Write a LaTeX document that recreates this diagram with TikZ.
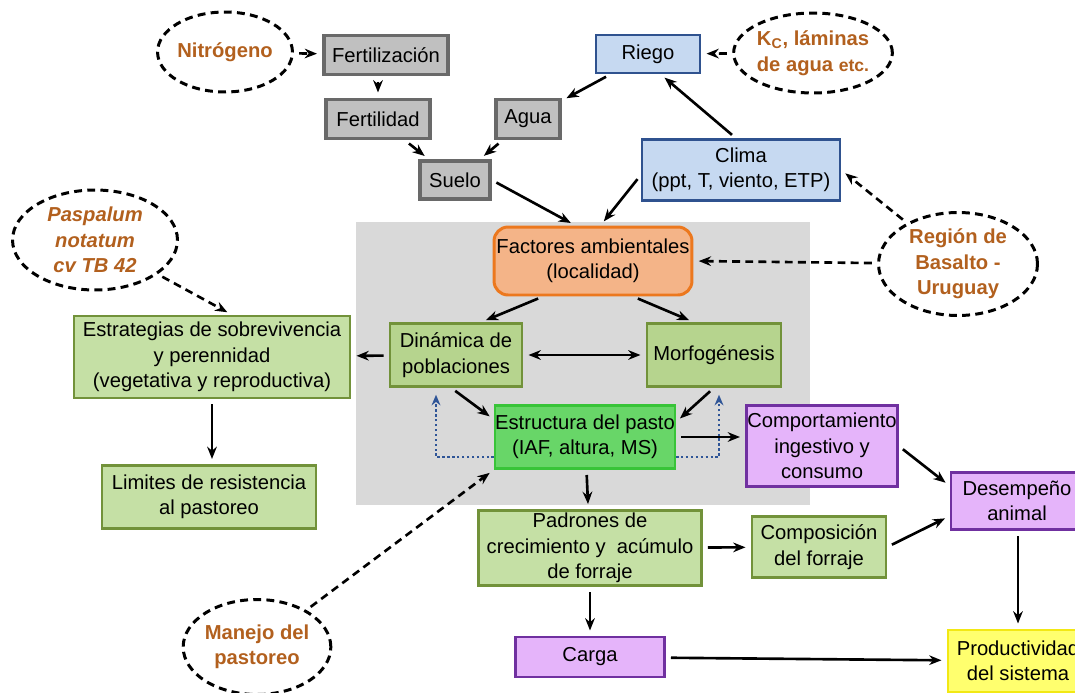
\documentclass[tikz,border=0pt]{standalone}
\usepackage{fontspec}
\setmainfont{Liberation Sans}
\usetikzlibrary{shapes.geometric,arrows.meta}

\definecolor{soilfill}{RGB}{192,192,192}
\definecolor{soildraw}{RGB}{105,105,105}
\definecolor{climfill}{RGB}{198,217,241}
\definecolor{climdraw}{RGB}{47,82,143}
\definecolor{factfill}{RGB}{244,180,136}
\definecolor{factdraw}{RGB}{236,120,30}
\definecolor{plantfill}{RGB}{197,224,165}
\definecolor{plantdark}{RGB}{182,212,142}
\definecolor{plantdraw}{RGB}{114,146,58}
\definecolor{strfill}{RGB}{104,214,104}
\definecolor{strdraw}{RGB}{56,196,56}
\definecolor{animfill}{RGB}{229,180,250}
\definecolor{animdraw}{RGB}{112,48,160}
\definecolor{prodfill}{RGB}{255,255,110}
\definecolor{proddraw}{RGB}{242,232,20}
\definecolor{zonefill}{RGB}{217,217,217}
\definecolor{inputtext}{RGB}{178,96,30}
\definecolor{loopblue}{RGB}{47,85,151}

\tikzset{
  box/.style={rectangle, draw, align=center, line width=1.4pt, inner sep=1pt,
    font=\fontsize{11.5}{14.5}\selectfont},
  soilbox/.style={box, fill=soilfill, draw=soildraw, line width=2pt},
  climbox/.style={box, fill=climfill, draw=climdraw},
  plantbox/.style={box, fill=plantfill, draw=plantdraw},
  animbox/.style={box, fill=animfill, draw=animdraw},
  inputcloud/.style={ellipse, draw, line width=1.7pt, dash pattern=on 4.5pt off 3pt,
    align=center, inner sep=0pt, text=inputtext,
    font=\fontsize{11.5}{14.5}\selectfont\bfseries},
  arr/.style={-{Stealth[length=7pt,width=5.5pt]}, line width=1.5pt,
    shorten >=3pt, shorten <=3pt},
  darr/.style={arr, dash pattern=on 4.5pt off 3pt},
  looparr/.style={-{Stealth[length=6pt,width=5pt]}, line width=1.5pt, loopblue,
    dash pattern=on 1.4pt off 1.4pt, shorten >=4pt}
}

\begin{document}
\begin{tikzpicture}[x=0.02cm, y=-0.02cm]
  \useasboundingbox (0,0) rectangle (1075,693);
  \fill[zonefill] (356,222) rectangle (810,505);

  % soil and climate
  \node[inputcloud, minimum width=2.5cm, minimum height=1.6cm] (nitro) at (225,52) {Nitrógeno};
  \node[soilbox, minimum width=2.48cm, minimum height=0.78cm] (fertz) at (386,55) {Fertilización};
  \node[soilbox, minimum width=2.08cm, minimum height=0.78cm] (fertl) at (378,119) {Fertilidad};
  \node[soilbox, minimum width=1.28cm, minimum height=0.78cm] (agua) at (528,119) {Agua};
  \node[soilbox, minimum width=1.4cm, minimum height=0.76cm] (suelo) at (455,180) {Suelo};
  \node[climbox, minimum width=2.08cm, minimum height=0.76cm] (riego) at (648,54) {Riego};
  \node[inputcloud, minimum width=3.0cm, minimum height=1.6cm] (kc) at (813,53)
    {K\textsubscript{C}, láminas\\de agua {\fontsize{10}{12}\selectfont etc.}};
  \node[climbox, minimum width=3.96cm, minimum height=1.22cm] (clima) at (741,170)
    {Clima\\(ppt, T, viento, ETP)};
  \node[inputcloud, minimum width=3.18cm, minimum height=2.06cm] (region) at (958,264)
    {Región de\\Basalto -\\Uruguay};

  % pasture
  \node[box, rounded corners=8pt, fill=factfill, draw=factdraw, line width=1.7pt,
    minimum width=3.96cm, minimum height=1.36cm] (fact) at (593,261)
    {Factores ambientales\\(localidad)};
  \node[box, fill=plantdark, draw=plantdraw, minimum width=2.64cm, minimum height=1.26cm]
    (dyn) at (456,355) {Dinámica de\\poblaciones};
  \node[box, fill=plantdark, draw=plantdraw, minimum width=2.68cm, minimum height=1.26cm]
    (morf) at (714,355) {Morfogénesis};
  \node[box, fill=strfill, draw=strdraw, inner sep=0pt, minimum width=3.48cm, minimum height=1.26cm]
    (struct) at (585,437) {Estructura del pasto\\(IAF, altura, MS)};
  \node[inputcloud, minimum width=3.3cm, minimum height=2.0cm, font=\fontsize{11.5}{14.5}\selectfont\bfseries\itshape]
    (pasp) at (95,240) {Paspalum\\notatum\\cv TB 42};
  \node[plantbox, minimum width=5.52cm, minimum height=1.64cm] (estr) at (212,357)
    {Estrategias de sobrevivencia\\y perennidad\\(vegetativa y reproductiva)};
  \node[plantbox, minimum width=4.28cm, minimum height=1.26cm] (lim) at (209,497)
    {Limites de resistencia\\al pastoreo};
  \node[plantbox, minimum width=4.46cm, minimum height=1.5cm] (padr) at (590,548)
    {Padrones de\\crecimiento y \ acúmulo\\de forraje};
  \node[plantbox, minimum width=2.68cm, minimum height=1.22cm] (compo) at (819,547)
    {Composición\\del forraje};
  \node[inputcloud, minimum width=2.2cm, minimum height=1.9cm] (manejo) at (257,647)
    {Manejo del\\pastoreo};

  % animal
  \node[animbox, inner sep=0pt, minimum width=3.02cm, minimum height=1.62cm] (comp) at (822,446)
    {Comportamiento\\ingestivo y\\consumo};
  \node[animbox, minimum width=2.64cm, minimum height=1.14cm] (des) at (1017,501)
    {Desempeño\\animal};
  \node[animbox, minimum width=2.98cm, minimum height=0.8cm] (carga) at (590,657) {Carga};
  \node[box, fill=prodfill, draw=proddraw, minimum width=2.8cm, minimum height=1.24cm]
    (prod) at (1018,661) {Productividad\\del sistema};

  % connectors
  \draw[darr] (nitro) -- (fertz);
  \draw[arr] (fertz.south -| fertl.north) -- (fertl.north);
  \draw[arr] (fertl) -- (suelo);
  \draw[arr] (agua) -- (suelo);
  \draw[arr] (riego) -- (agua);
  \draw[arr] ([xshift=-0.1cm]clima.north) -- ([xshift=0.25cm]riego.south);
  \draw[darr] (kc) -- (riego);
  \draw[arr] (suelo.east) -- ([xshift=-0.35cm]fact.north);
  \draw[arr] ([yshift=-0.1cm]clima.west) -- ([xshift=0.15cm]fact.north);
  \draw[darr] (region) -- (clima.east);
  \draw[darr] (region) -- (fact.east);
  \draw[darr] (pasp) -- ([xshift=0.4cm]estr.north);
  \draw[arr] ([xshift=-1cm]fact.south) -- ([xshift=0.5cm]dyn.north);
  \draw[arr] ([xshift=0.8cm]fact.south) -- ([xshift=-0.4cm]morf.north);
  \draw[arr, {Stealth[length=7pt,width=5.5pt]}-{Stealth[length=7pt,width=5.5pt]}] (dyn) -- (morf);
  \draw[arr] (dyn) -- (estr);
  \draw[arr] (estr) -- (estr.south |- lim.north);
  \draw[arr] ([xshift=-0.1cm]dyn.south) -- ([yshift=0.35cm]struct.west);
  \draw[arr] (morf.south) -- ([yshift=0.3cm]struct.east);
  \draw[looparr] ([yshift=-0.4cm]struct.west) -| ([xshift=-0.4cm]dyn.south);
  \draw[looparr] ([yshift=-0.4cm]struct.east) -| ([xshift=0.1cm]morf.south);
  \draw[arr] (struct.east) -- (struct.east -| comp.west);
  \draw[arr] (struct) -- (padr);
  \draw[darr] (manejo) -- (struct.south west);
  \draw[arr] (padr) -- (compo);
  \draw[arr] (padr) -- (carga);
  \draw[arr] (comp.east) -- ([yshift=0.3cm]des.west);
  \draw[arr] (compo.east) -- ([yshift=-0.3cm]des.west);
  \draw[arr] (des.south -| prod.north) -- (prod.north);
  \draw[arr] (carga) -- (prod);
\end{tikzpicture}
\end{document}
